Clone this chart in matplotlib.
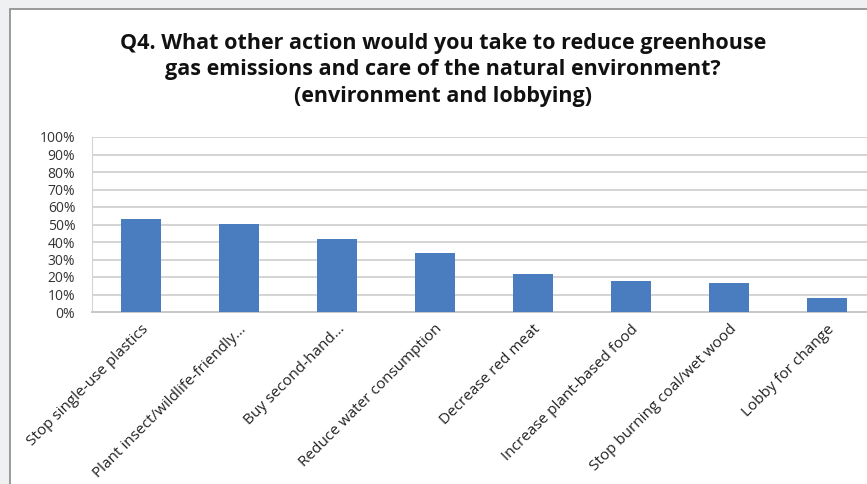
import matplotlib
matplotlib.use("Agg")
import matplotlib.pyplot as plt
import matplotlib.patches as mpatches
import numpy as np

categories = [
    "Stop single-use plastics",
    "Plant insect/wildlife-friendly...",
    "Buy second-hand...",
    "Reduce water consumption",
    "Decrease red meat",
    "Increase plant-based food",
    "Stop burning coal/wet wood",
    "Lobby for change",
]
values = [53, 50.5, 42, 34, 22, 18, 16.5, 8]
y_ticks = [0, 10, 20, 30, 40, 50, 60, 70, 80, 90, 100]

title = ("Q4. What other action would you take to reduce greenhouse\n"
         "gas emissions and care of the natural environment?\n"
         "(environment and lobbying)")

plt.rcParams["font.family"] = ["Open Sans", "DejaVu Sans"]

fig = plt.figure(figsize=(8.67, 4.84), dpi=100)
fig.patch.set_facecolor("#eef0f2")

# white chart panel with a dark border on the top/left
panel = mpatches.Rectangle((10 / 867, -0.01), 1.0, 1 - 9 / 484 + 0.01,
                           transform=fig.transFigure, facecolor="white",
                           edgecolor="#8a8a8a", linewidth=1.2, zorder=-5)
fig.patches.append(panel)

# axes: left at 92px, 0% at y=312, 100% at y=137; right edge runs past the figure
x0, x1 = 92 / 867, 876 / 867
y0, y1 = 1 - 312 / 484, 1 - 137 / 484
ax = fig.add_axes([x0, y0, x1 - x0, y1 - y0])
ax.set_facecolor("white")

x = np.arange(len(categories))
ax.bar(x, values, width=0.4, color="#4a7dc0", zorder=3)

ax.set_xlim(-0.5, len(categories) - 0.5)
ax.set_ylim(0, 100)
ax.set_yticks(y_ticks)
ax.set_yticklabels([f"{t}%" for t in y_ticks], fontsize=10, color="#333333")
ax.yaxis.grid(True, color="#d4d4d4", linewidth=1.4, zorder=0)
ax.set_axisbelow(True)
ax.tick_params(axis="y", length=0, pad=12)
ax.tick_params(axis="x", length=0, pad=7)

ax.set_xticks(x)
ax.set_xticklabels(categories, rotation=45, ha="right", va="top",
                   rotation_mode="anchor", fontsize=11, color="#222222")

for side in ["top", "right"]:
    ax.spines[side].set_visible(False)
ax.spines["left"].set_color("#d4d4d4")
ax.spines["bottom"].set_color("#c8c8c8")
ax.spines["bottom"].set_linewidth(1.4)

fig.text(443 / 867, 1 - 70 / 484, title, ha="center", va="center",
         fontsize=15.5, fontweight="bold", linespacing=1.32, color="#111111")

fig.savefig("out.png", dpi=100)
